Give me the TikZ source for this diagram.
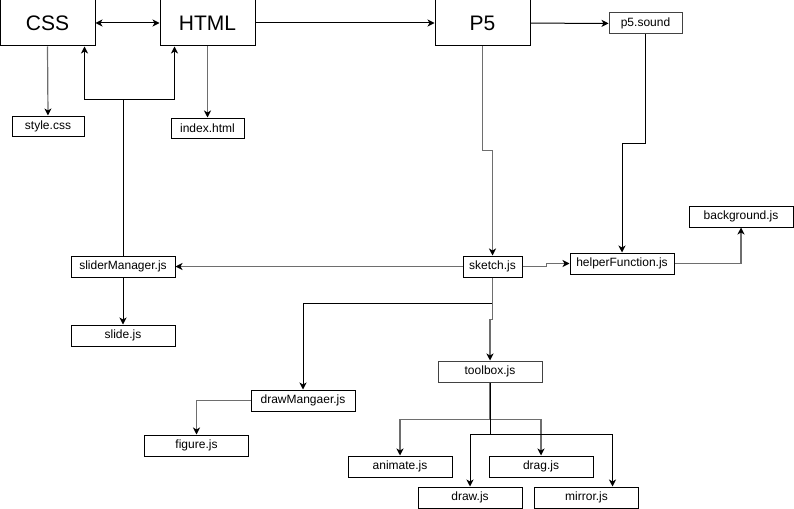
\documentclass[tikz,border=0pt]{standalone}
\usepackage{fontspec}
\setmainfont{Liberation Sans}
\definecolor{lineGray}{HTML}{6E6E6E}
\usetikzlibrary{arrows.meta}

\begin{document}
\begin{tikzpicture}[x=1pt,y=-1pt,>={Stealth[length=7pt,width=7pt,inset=2pt,color=black]},
    bigbox/.style={draw,line width=1pt,minimum width=95pt,minimum height=46pt,
      inner sep=0pt,font=\fontsize{21}{24}\selectfont},
    filebox/.style={draw,line width=1pt,minimum width=104pt,minimum height=21pt,
      inner sep=0pt,font=\fontsize{12}{14}\selectfont},
    blk/.style={line width=1pt,->},
    gry/.style={line width=1.2pt,->,lineGray}]
  \useasboundingbox (0,0) rectangle (794,508);

  \node[bigbox] (css)  at (47.5,23)  {CSS};
  \node[bigbox] (html) at (207.5,23) {HTML};
  \node[bigbox] (p5)   at (482.5,23) {P5};
  \node[filebox,minimum width=73pt,draw=lineGray!60!black] (sound) at (645.5,23.5) {p5.sound};
  \node[filebox,minimum width=72pt,minimum height=20pt] (style) at (48,126) {style.css};
  \node[filebox,minimum width=73pt,minimum height=20pt] (index) at (207.5,128) {index.html};

  \node[filebox] (slider)  at (123,266.5)  {sliderManager.js};
  \node[filebox] (slide)   at (123,335.5)  {slide.js};
  \node[filebox,minimum width=59pt] (sketch) at (492.5,266.5) {sketch.js};
  \node[filebox] (helper)  at (622,263.5)  {helperFunction.js};
  \node[filebox] (bg)      at (741,216.5)  {background.js};
  \node[filebox] (drawm)   at (303,400.5)  {drawMangaer.js};
  \node[filebox] (figure)  at (196.5,445.5) {figure.js};
  \node[filebox,draw=lineGray!60!black] (toolbox) at (490,371.5) {toolbox.js};
  \node[filebox] (animate) at (400,466.5)  {animate.js};
  \node[filebox] (drag)    at (541,466.5)  {drag.js};
  \node[filebox] (drawjs)  at (470,497.5)  {draw.js};
  \node[filebox] (mirror)  at (586.5,497.5) {mirror.js};

  % top row
  \draw[blk,<->] (css) -- (html);
  \draw[blk] (html) -- (p5);
  \draw[blk] (p5) -- (sound);
  \draw[gry] (css.south) -- (style.north);
  \draw[gry] (html.south) -- (index.north);

  % slider manager back up to css and html
  \coordinate (fork) at (123,100);
  \draw[blk] (slider.north) -- (fork) -| ([xshift=37pt]css.south);
  \draw[blk] (fork) -| ([xshift=-33pt]html.south);
  \draw[blk] (slider.south) -- (slide.north);

  % sketch
  \draw[gry] (p5.south) -- ++(0,104) -| (sketch.north);
  \draw[gry] (sketch.west) -- (slider.east);
  \draw[gry] (sketch.east) -- ++(24,0) |- (helper.west);
  \draw[blk] (sound.south) -- ++(0,109) -| (helper.north);
  \draw[gry] (helper.east) -| (bg.south);
  \draw[blk] (sketch.south) -- ++(0,26) -| (drawm.north);
  \draw[gry] (sketch.south) -- ++(0,42) -| (toolbox.north);
  \draw[gry] (drawm.west) -| (figure.north);

  % toolbox children
  \draw[gry] (toolbox.south) -- ++(0,37) coordinate (t1) -| (animate.north);
  \draw[gry] (t1) -| (drag.north);
  \draw[blk] (toolbox.south) -- ++(0,52) coordinate (t2) -| (drawjs.north);
  \draw[blk] (t2) -| ([xshift=26pt]mirror.north);
\end{tikzpicture}
\end{document}
